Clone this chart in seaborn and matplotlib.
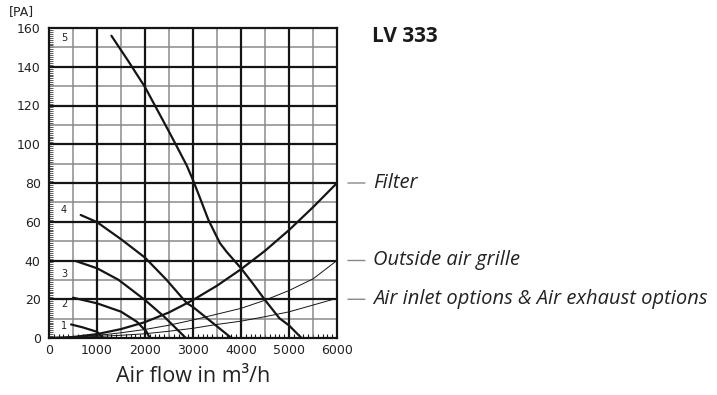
import matplotlib
matplotlib.use("Agg")
import matplotlib.pyplot as plt
import seaborn as sns
import pandas as pd
from matplotlib.ticker import MultipleLocator

# Fan curves (speed steps 1-5): air flow [m3/h] vs pressure [Pa]
fan1_x = [460, 700, 1000, 1130]
fan1_y = [7.0, 5.5, 3.2, 0.0]
fan2_x = [500, 1000, 1500, 1830, 2030, 2100]
fan2_y = [20.8, 17.9, 13.6, 8.4, 3.3, 0.0]
fan3_x = [560, 1000, 1450, 2000, 2400, 2850]
fan3_y = [39.7, 36.0, 30.0, 19.6, 11.0, 0.0]
fan4_x = [660, 1000, 1500, 2000, 2450, 2870, 3000, 3350, 3800]
fan4_y = [63.5, 59.8, 51.0, 41.5, 30.0, 18.0, 16.0, 9.0, 0.0]
fan5_x = [1300, 1650, 2000, 2250, 2500, 2660, 2870, 3000, 3150, 3320,
          3560, 3700, 4000, 4250, 4500, 4800, 5000, 5260]
fan5_y = [156, 143, 129.5, 118, 106.5, 99, 89, 81.5, 72, 61,
          49, 44.5, 36, 28, 19.6, 10.2, 6.5, 0]

# System pressure-drop curves
sys_x = [0, 500, 1000, 1500, 2000, 2500, 3000, 3500, 4000, 4500, 5000, 5500, 6000]
filter_y = [0, 0.5, 2.0, 4.6, 8.2, 13.2, 19.6, 27.0, 35.5, 45.0, 55.7, 67.5, 80.0]
grille_y = [0, 0.4, 1.3, 2.7, 4.4, 6.6, 9.3, 12.3, 15.3, 19.5, 24.5, 30.5, 40.0]
inlet_y = [0, 0.3, 0.8, 1.4, 2.2, 3.5, 5.0, 7.0, 8.7, 11.0, 13.5, 17.0, 20.5]

fan_labels = ["1", "2", "3", "4", "5"]
fan_label_y = [6.2, 17.4, 32.9, 66.0, 154.7]
system_names = ["Filter", "Outside air grille", "Air inlet options & Air exhaust options"]
system_ends = [80, 40, 20]
x_ticks = [0, 1000, 2000, 3000, 4000, 5000, 6000]
y_ticks = [0, 20, 40, 60, 80, 100, 120, 140, 160]

sns.set_style("white")
plt.rcParams["font.family"] = ["DejaVu Sans"]

fig = plt.figure(figsize=(7.17, 3.95), dpi=100)
ax = fig.add_axes([49 / 717, 1 - 338 / 395, 288 / 717, 310 / 395])

fans = [(fan1_x, fan1_y), (fan2_x, fan2_y), (fan3_x, fan3_y),
        (fan4_x, fan4_y), (fan5_x, fan5_y)]
for fx, fy in fans:
    sns.lineplot(data=pd.DataFrame({"x": fx, "y": fy}), x="x", y="y", ax=ax,
                 color="#151515", lw=1.6, sort=False, zorder=5)

sns.lineplot(data=pd.DataFrame({"x": sys_x, "y": filter_y}), x="x", y="y",
             ax=ax, color="#151515", lw=1.6, zorder=5)
for ys in (grille_y, inlet_y):
    sns.lineplot(data=pd.DataFrame({"x": sys_x, "y": ys}), x="x", y="y",
                 ax=ax, color="#151515", lw=0.7, zorder=5)

ax.set_xlim(0, 6000)
ax.set_ylim(0, 160)
ax.set_xlabel("")
ax.set_ylabel("")

# Grid: heavy lines every 1000 / 20, light ones in between
for v in range(500, 6000, 1000):
    ax.axvline(v, color="#8a8a8a", lw=1.1, zorder=1)
for v in range(10, 160, 20):
    ax.axhline(v, color="#8a8a8a", lw=1.1, zorder=1)
for v in range(1000, 6000, 1000):
    ax.axvline(v, color="#151515", lw=1.6, zorder=2)
for v in range(20, 160, 20):
    ax.axhline(v, color="#151515", lw=1.6, zorder=2)

for s in ax.spines.values():
    s.set_color("#151515")
    s.set_linewidth(1.6)
    s.set_visible(True)

ax.set_xticks(x_ticks)
ax.set_yticks(y_ticks)
ax.set_xticklabels([str(t) for t in x_ticks])
ax.set_yticklabels([str(t) for t in y_ticks])
ax.xaxis.set_minor_locator(MultipleLocator(100))
ax.yaxis.set_minor_locator(MultipleLocator(1))
ax.tick_params(axis="both", which="major", labelsize=9, colors="#333333",
               labelcolor="#222222", width=1, length=4, direction="out", pad=2)
ax.tick_params(axis="x", which="major", length=0, pad=4)
ax.tick_params(axis="x", which="minor", direction="in", length=3, width=0.8,
               color="#151515", bottom=True)
ax.tick_params(axis="y", which="minor", direction="in", length=3, width=0.5,
               color="#151515", left=True)

# Fan step numbers
for lab, ly in zip(fan_labels, fan_label_y):
    ax.text(310, ly, lab, fontsize=7, ha="center", va="center",
            color="#222222", zorder=6)

# Leader lines and names for the system curves
for name, yv in zip(system_names, system_ends):
    ax.annotate("", xy=(6000 + 170, yv), xytext=(6000 + 640, yv),
                xycoords="data", textcoords="data", annotation_clip=False,
                arrowprops=dict(arrowstyle="-", color="#888888", lw=1.0))
    ax.text(6000 + 760, yv, name, fontsize=14.5, style="italic",
            family="Open Sans", ha="left", va="center", color="#222222",
            clip_on=False)

fig.text(372 / 717, 1 - 36 / 395, "LV 333", fontsize=15, fontweight="bold",
         family="Open Sans", ha="left", va="center", color="#1a1a1a")
fig.text(9 / 717, 1 - 12 / 395, "[PA]", fontsize=9, ha="left",
         va="center", color="#222222")
fig.text(193 / 717, 1 - 377 / 395, "Air flow in m³/h", fontsize=15.5,
         family="Open Sans", ha="center", va="center", color="#222222")

fig.savefig("out.png", dpi=100)
